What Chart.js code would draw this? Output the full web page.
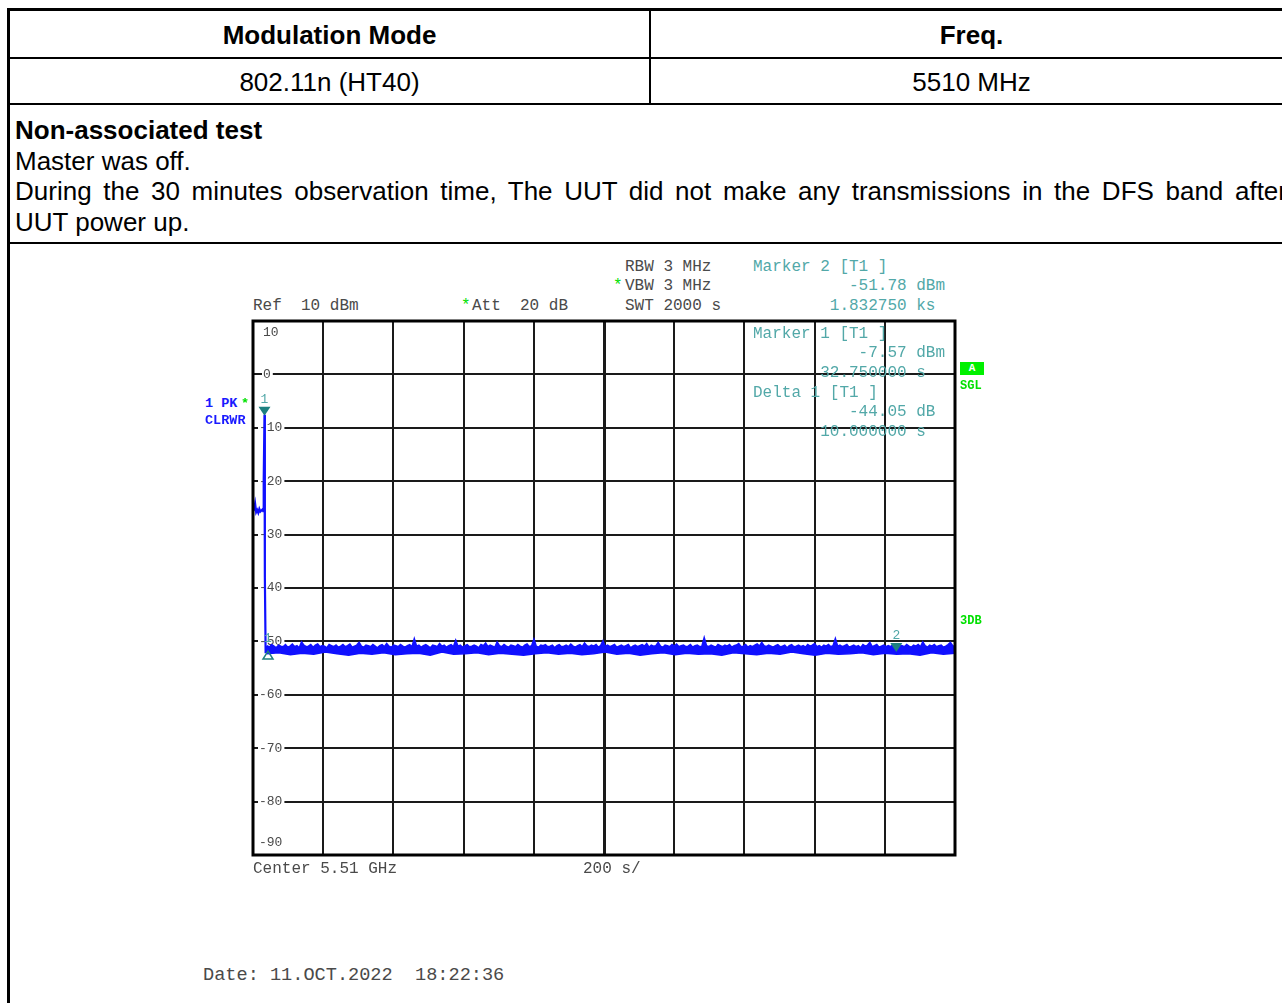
<!DOCTYPE html>
<html>
<head>
<meta charset="utf-8">
<script src="https://cdn.jsdelivr.net/npm/chart.js@4.4.1/dist/chart.umd.min.js"></script>
<style>
    html, body { margin: 0; padding: 0; background: #fff; overflow: hidden; }
    body { width: 1282px; height: 1003px; position: relative; }
    .ln { position: absolute; background: #000; }
    .cell { position: absolute; font-family: "Liberation Sans", Arial, sans-serif; font-size: 26px; color: #000; text-align: center; line-height: 30px; }
    .note { position: absolute; left: 15px; top: 115px; width: 1272px; font-family: "Liberation Sans", Arial, sans-serif; font-size: 26px; line-height: 30.5px; color: #000; }
    .just { text-align: justify; text-align-last: justify; white-space: nowrap; }
    .mono { position: absolute; font-family: "Liberation Mono", "Courier New", monospace; font-size: 16px; line-height: 18px; color: #4a4a4a; white-space: pre; }
    .teal { color: #52a8a8; }
    .grn { color: #00e000; }
    .blu { font-weight: bold; font-size: 13.5px; color: #1a1aff; }
    .tag { font-weight: bold; font-size: 12px; color: #00e000; }
    #chartBox { position: absolute; left: 243px; top: 311px; width: 722px; height: 554px; }
</style>
</head>
<body>

<!-- 表格框线 -->
<div class="ln" style="left:7px; top:8px; width:1300px; height:3px;"></div>
<div class="ln" style="left:7px; top:8px; width:3px; height:1000px;"></div>
<div class="ln" style="left:10px; top:57px; width:1300px; height:2px;"></div>
<div class="ln" style="left:10px; top:103px; width:1300px; height:2px;"></div>
<div class="ln" style="left:10px; top:242px; width:1300px; height:2px;"></div>
<div class="ln" style="left:649px; top:11px; width:2px; height:93px;"></div>

<div class="cell" style="left:10px; top:20px; width:639px; font-weight:bold;">Modulation Mode</div>
<div class="cell" style="left:651px; top:20px; width:641px; font-weight:bold;">Freq.</div>
<div class="cell" style="left:10px; top:67px; width:639px;">802.11n (HT40)</div>
<div class="cell" style="left:651px; top:67px; width:641px;">5510 MHz</div>

<div class="note">
    <div><b>Non-associated test</b></div>
    <div>Master was off.</div>
    <div class="just">During the 30 minutes observation time, The UUT did not make any transmissions in the DFS band after</div>
    <div>UUT power up.</div>
</div>

<!-- 仪器屏幕文字 -->
<div class="mono" style="left:625px; top:258px;">RBW 3 MHz</div>
<div class="mono grn" style="left:613px; top:277px;">*</div>
<div class="mono" style="left:625px; top:277px;">VBW 3 MHz</div>
<div class="mono" style="left:625px; top:297px;">SWT 2000 s</div>
<div class="mono" style="left:253px; top:297px;">Ref  10 dBm</div>
<div class="mono grn" style="left:461px; top:297px;">*</div>
<div class="mono" style="left:472px; top:297px;">Att  20 dB</div>

<div class="mono teal" style="left:753px; top:258px;">Marker 2 [T1 ]</div>
<div class="mono teal" style="left:753px; top:277px;">          -51.78 dBm</div>
<div class="mono teal" style="left:753px; top:297px;">        1.832750 ks</div>

<div id="chartBox"><canvas id="saChart" width="722" height="554"></canvas></div>

<div class="mono teal" style="left:753px; top:325px;">Marker 1 [T1 ]</div>
<div class="mono teal" style="left:753px; top:344px;">           -7.57 dBm</div>
<div class="mono teal" style="left:753px; top:364px;">       32.750000 s</div>
<div class="mono teal" style="left:753px; top:384px;">Delta 1 [T1 ]</div>
<div class="mono teal" style="left:753px; top:403px;">          -44.05 dB</div>
<div class="mono teal" style="left:753px; top:423px;">       10.000000 s</div>

<div class="mono blu" style="left:205px; top:395px;">1 PK</div>
<div class="mono blu" style="left:241px; top:395px; color:#00e000;">*</div>
<div class="mono blu" style="left:205px; top:412px;">CLRWR</div>

<div style="position:absolute; left:960px; top:362px; width:24px; height:13px; background:#00f000; color:#fff; font:bold 11px 'Liberation Mono', monospace; text-align:center; line-height:13px;">A</div>
<div class="mono tag" style="left:960px; top:377px;">SGL</div>
<div class="mono tag" style="left:960px; top:612px;">3DB</div>

<div class="mono" style="left:253px; top:860px;">Center 5.51 GHz</div>
<div class="mono" style="left:583px; top:860px;">200 s/</div>
<div class="mono" style="left:203px; top:965px; font-size:18.6px; line-height:22px;">Date: 11.OCT.2022  18:22:36</div>

<script>
// 坐标轴设置
const timeMin = 0, timeMax = 2000, timeStep = 200;
const levelMin = -90, levelMax = 10, levelStep = 10;
const levelTicks = ['10', '0', '-10', '-20', '-30', '-40', '-50', '-60', '-70', '-80', '-90'];

// 开机前后那一段 (s, dBm)
const leadTimes  = [0, 3, 6, 9, 12, 15, 18, 21, 24, 27, 29, 30.5, 32.75, 33.8, 36, 40];
const leadLevels = [-25.6, -25.3, -24.2, -25.8, -25.4, -25.9, -25.2, -25.7, -25.5, -25.3, -25.6, -20.0, -7.57, -38.0, -52.2, -50.8];

// 之后的底噪：上沿 (dBm)，扫描点等间隔
const noiseStart = 40;
const noisePeak = [
    -50.8,-51.1,-50.6,-50.9,-51.2,-50.7,-50.9,-51.0,-50.6,-51.1,
    -50.9,-50.5,-51.0,-50.8,-51.2,-50.1,-50.7,-51.0,-50.9,-50.6,
    -51.1,-50.7,-50.5,-51.0,-50.8,-50.9,-51.2,-50.6,-50.8,-51.0,
    -50.7,-51.1,-50.9,-50.6,-51.0,-50.8,-50.5,-51.1,-50.9,-50.7,
    -50.2,-50.9,-51.1,-50.7,-50.8,-51.0,-50.6,-50.9,-51.2,-50.8,
    -50.6,-51.0,-50.4,-50.9,-51.1,-50.7,-50.8,-51.0,-50.6,-50.9,
    -51.1,-50.8,-50.6,-51.0,-49.5,-50.9,-50.7,-51.1,-50.8,-50.6,
    -50.9,-51.2,-50.7,-50.8,-51.0,-50.4,-50.9,-50.7,-51.1,-50.8,
    -50.6,-51.0,-49.8,-50.9,-50.7,-51.1,-50.8,-50.6,-51.0,-50.9,
    -50.7,-50.9,-51.2,-50.6,-50.8,-50.3,-51.0,-50.7,-50.9,-51.1,
    -50.1,-50.8,-51.0,-50.6,-50.9,-51.1,-50.7,-50.8,-51.0,-50.6,
    -50.9,-51.1,-50.7,-50.5,-51.0,-50.8,-49.6,-50.9,-51.1,-50.7,
    -50.8,-50.6,-51.0,-50.9,-50.7,-51.2,-50.8,-50.6,-51.0,-50.9,
    -50.7,-51.0,-50.5,-50.9,-51.1,-50.8,-50.6,-51.0,-50.3,-50.8,
    -51.0,-50.7,-50.9,-50.6,-51.1,-50.8,-49.9,-50.9,-50.7,-51.0,
    -50.8,-50.6,-51.1,-50.9,-50.7,-51.0,-50.8,-50.6,-51.2,-50.9,
    -50.7,-51.0,-50.8,-50.6,-50.9,-50.4,-51.1,-50.7,-50.9,-50.8,
    -50.2,-50.9,-51.1,-50.7,-50.8,-51.0,-50.6,-50.9,-50.5,-51.0,
    -50.8,-50.7,-51.0,-50.9,-50.6,-51.1,-50.8,-50.7,-51.0,-50.9,
    -49.3,-50.8,-51.0,-50.7,-50.9,-51.1,-50.6,-50.8,-51.0,-50.7,
    -50.9,-50.6,-51.1,-50.8,-50.7,-50.4,-51.0,-50.9,-50.6,-51.1,
    -50.8,-51.0,-50.7,-50.5,-50.9,-50.2,-50.8,-51.0,-50.7,-50.9,
    -51.1,-50.8,-50.6,-51.0,-50.9,-50.7,-51.2,-50.8,-50.6,-51.0,
    -50.9,-50.7,-51.0,-50.8,-51.1,-50.6,-50.9,-50.7,-50.4,-51.0,
    -50.8,-51.1,-50.7,-50.9,-50.6,-51.0,-50.8,-49.5,-50.9,-50.7,
    -51.0,-50.8,-50.6,-51.1,-50.9,-50.7,-51.0,-50.8,-51.2,-50.6,
    -50.9,-50.7,-50.2,-51.0,-50.8,-50.6,-51.1,-50.9,-50.7,-51.0,
    -50.8,-51.0,-50.6,-50.9,-51.1,-50.7,-50.8,-51.0,-50.6,-50.9,
    -51.1,-50.7,-50.9,-50.6,-51.0,-50.1,-50.8,-51.1,-50.7,-50.9,
    -50.6,-51.0,-50.8,-50.7,-51.1,-50.9,-50.6,-50.2,-50.8,-51.0
];
// 底噪下沿 (dBm)
const noiseFloor = [
    -52.3,-52.1,-52.5,-52.2,-52.4,-52.0,-52.3,-52.6,-52.2,-52.4,
    -52.1,-52.5,-52.3,-52.2,-52.6,-52.0,-52.4,-52.3,-52.1,-52.5,
    -52.2,-52.4,-52.6,-52.3,-52.1,-52.4,-52.2,-52.5,-52.3,-52.0,
    -52.4,-52.2,-52.6,-52.3,-52.1,-52.5,-52.2,-52.4,-52.3,-52.6,
    -52.1,-52.3,-52.5,-52.2,-52.4,-52.0,-52.3,-52.6,-52.2,-52.4,
    -52.3,-52.1,-52.5,-52.2,-52.4,-52.3,-52.6,-52.1,-52.4,-52.2
];

// 标记点
const markerNames  = ['1', '1', '2'];
const markerTimes  = [32.75, 42.75, 1832.75];
const markerLevels = [-7.57, -51.62, -51.78];
const markerKinds  = ['down', 'up', 'down'];

// 组装曲线数据
const toPoints = (vals, start, end) => vals.map((v, i) => ({ x: start + i * (end - start) / (vals.length - 1), y: v }));
const leadPoints = leadTimes.map((t, i) => ({ x: t, y: leadLevels[i] }));
const peakPoints = toPoints(noisePeak, noiseStart, timeMax);
const floorPoints = toPoints(noiseFloor, noiseStart, timeMax);

const traceBlue = '#1010ff';
const teal = '#52a8a8';
const tealDark = '#1e8080';

// 边框、纵轴刻度文字、标记
const framePlugin = {
    id: 'frame',
    beforeDatasetsDraw(chart) {
        const { ctx, chartArea: a, scales } = chart;
        ctx.save();
        ctx.font = '13px "Liberation Mono", monospace';
        ctx.textBaseline = 'middle';
        ctx.textAlign = 'left';
        levelTicks.forEach(lbl => {
            let y = scales.y.getPixelForValue(Number(lbl));
            if (Number(lbl) === levelMax) y += 12;
            if (Number(lbl) === levelMin) y -= 12;
            const w = ctx.measureText(lbl).width;
            const x = a.left + 6 + (lbl.startsWith('-') ? 0 : 4);
            ctx.fillStyle = '#fff';
            ctx.fillRect(x - 1, y - 3, w + 3, 6);
            ctx.fillStyle = '#4a4a4a';
            ctx.fillText(lbl, x, y);
        });
        ctx.restore();
    },
    afterDraw(chart) {
        const { ctx, chartArea: a, scales } = chart;
        ctx.save();
        ctx.strokeStyle = '#000';
        ctx.lineWidth = 3;
        ctx.strokeRect(a.left, a.top, a.right - a.left, a.bottom - a.top);
        // 标记
        ctx.font = '13px "Liberation Mono", monospace';
        ctx.textAlign = 'center';
        ctx.textBaseline = 'bottom';
        markerTimes.forEach((t, i) => {
            const x = scales.x.getPixelForValue(t);
            const y = scales.y.getPixelForValue(markerLevels[i]);
            ctx.beginPath();
            if (markerKinds[i] === 'down') {
                ctx.moveTo(x - 6, y - 8);
                ctx.lineTo(x + 6, y - 8);
                ctx.lineTo(x, y + 1);
                ctx.closePath();
                ctx.fillStyle = tealDark;
                ctx.fill();
                ctx.fillStyle = teal;
                ctx.fillText(markerNames[i], x, y - 9);
            } else {
                ctx.moveTo(x, y + 1);
                ctx.lineTo(x - 5, y + 9);
                ctx.lineTo(x + 5, y + 9);
                ctx.closePath();
                ctx.strokeStyle = tealDark;
                ctx.lineWidth = 1.5;
                ctx.stroke();
                ctx.fillStyle = teal;
                ctx.fillText(markerNames[i], x, y - 5);
            }
        });
        ctx.restore();
    }
};

const saChart = new Chart(document.getElementById('saChart').getContext('2d'), {
    type: 'line',
    data: {
        datasets: [{
            label: 'lead',
            data: leadPoints,
            borderColor: traceBlue,
            borderWidth: 2.2,
            pointRadius: 0,
            tension: 0,
            fill: false
        }, {
            label: '1 PK CLRWR',
            data: peakPoints,
            borderColor: traceBlue,
            backgroundColor: traceBlue,
            borderWidth: 1.6,
            pointRadius: 0,
            tension: 0,
            fill: '+1'
        }, {
            label: 'floor',
            data: floorPoints,
            borderColor: traceBlue,
            borderWidth: 1.6,
            pointRadius: 0,
            tension: 0,
            fill: false
        }]
    },
    options: {
        responsive: false,
        animation: false,
        layout: { padding: 10 },
        plugins: { legend: { display: false }, tooltip: { enabled: false } },
        scales: {
            x: {
                type: 'linear',
                min: timeMin,
                max: timeMax,
                ticks: { stepSize: timeStep, display: false },
                grid: {
                    color: '#1a1a1a',
                    lineWidth: c => (c.tick && c.tick.value === 1000 ? 3 : 2),
                    drawTicks: false
                },
                border: { display: false }
            },
            y: {
                type: 'linear',
                min: levelMin,
                max: levelMax,
                ticks: { stepSize: levelStep, display: false },
                grid: { color: '#1a1a1a', lineWidth: 2, drawTicks: false },
                border: { display: false }
            }
        }
    },
    plugins: [framePlugin]
});
</script>
</body>
</html>
